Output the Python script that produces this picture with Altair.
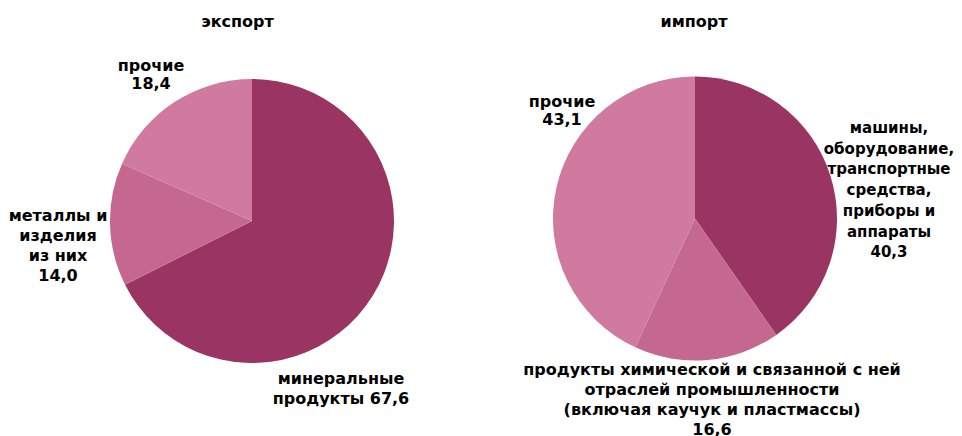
import altair as alt
import pandas as pd

# ---- data ----
export_categories = ["минеральные продукты", "металлы и изделия из них", "прочие"]
export_values = [67.6, 14.0, 18.4]

import_categories = [
    "машины, оборудование, транспортные средства, приборы и аппараты",
    "продукты химической и связанной с ней отраслей промышленности (включая каучук и пластмассы)",
    "прочие",
]
import_values = [40.3, 16.6, 43.1]

titles = ["экспорт", "импорт"]

# wrapped display names for labels
export_wrapped = ["минеральные\nпродукты", "металлы и\nизделия\nиз них", "прочие"]
import_wrapped = [
    "машины,\nоборудование,\nтранспортные\nсредства,\nприборы и\nаппараты",
    "продукты химической и связанной с ней\nотраслей промышленности\n(включая каучук и пластмассы)",
    "прочие",
]

DARK, MED, LIGHT = "#993463", "#c46890", "#d07aa0"
color_domain = export_categories[:2] + import_categories[:2] + ["прочие"]
color_range = [DARK, MED, DARK, MED, LIGHT]


def fmt(v):
    return f"{v:.1f}".replace(".", ",")


def pie_df(cats, vals):
    return pd.DataFrame({"category": cats, "value": vals, "idx": list(range(len(cats)))})


FONT = "DejaVu Sans"
FS = 16


def arc(df, cx, cy, r):
    return alt.Chart(df).mark_arc(radius=r).encode(
        theta=alt.Theta("value:Q", stack=True),
        order=alt.Order("idx:Q"),
        color=alt.Color("category:N", scale=alt.Scale(domain=color_domain, range=color_range), legend=None),
        x=alt.value(cx),
        y=alt.value(cy),
    )


def label(text, x, y, lh=20, fs=FS, align="center", baseline="middle"):
    return alt.Chart(pd.DataFrame({"t": [text]})).mark_text(
        font=FONT, fontSize=fs, fontWeight="bold", color="black",
        lineBreak="\n", lineHeight=lh, align=align, baseline=baseline,
    ).encode(text="t:N", x=alt.value(x), y=alt.value(y))


exp_df = pie_df(export_categories, export_values)
imp_df = pie_df(import_categories, import_values)

O = 8  # page margin offset

layers = [
    arc(exp_df, 252 - O, 221 - O, 142),
    arc(imp_df, 695 - O, 218.5 - O, 142),
    label(titles[0], 237.5 - O, 22 - O),
    label(titles[1], 694 - O, 22 - O),
    # export labels
    label(export_wrapped[2] + "\n" + fmt(export_values[2]), 151 - O, 66 - O, lh=18),
    label(export_wrapped[1] + "\n" + fmt(export_values[1]), 58 - O, 216 - O, lh=20),
    label(export_wrapped[0] + " " + fmt(export_values[0]), 341 - O, 379 - O, lh=20),
    # import labels
    label(import_wrapped[2] + "\n" + fmt(import_values[2]), 562 - O, 102 - O, lh=18),
    label(import_wrapped[0] + "\n" + fmt(import_values[0]), 889 - O, 128 - O, lh=20.7, fs=15),
    label(import_wrapped[1] + "\n" + fmt(import_values[1]), 712 - O, 370 - O, lh=20),
]

chart = alt.layer(*layers).resolve_scale(theta="independent").properties(
    width=946, height=428, padding=0, autosize=alt.AutoSizeParams(type="none")
).configure_view(stroke=None)

chart.save("out.html", embed_options={"renderer": "svg", "actions": False})
